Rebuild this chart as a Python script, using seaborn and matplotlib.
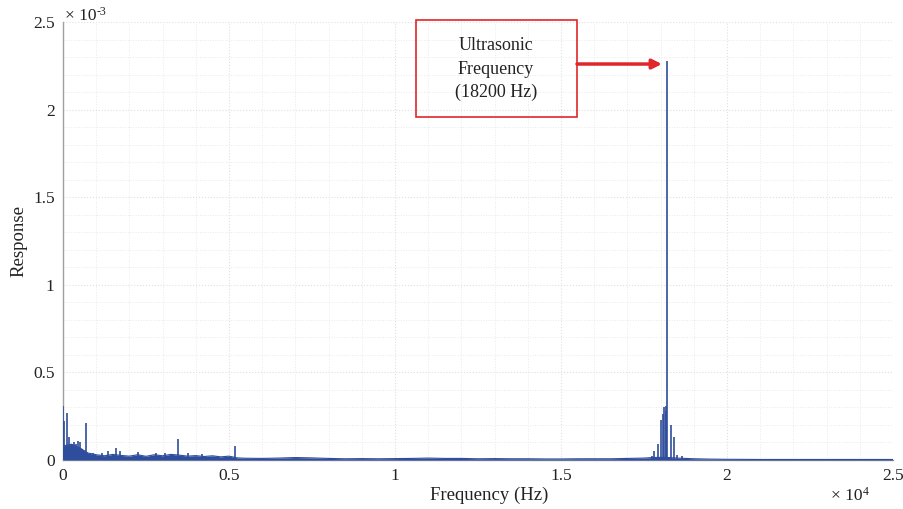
import matplotlib
matplotlib.use("Agg")
import matplotlib.pyplot as plt
from matplotlib.patches import Rectangle
from matplotlib.ticker import MultipleLocator
import seaborn as sns
import pandas as pd

# ---- data (response in units of 1e-3) ----
floor_freq = [0, 250, 500, 750, 1000, 1250, 1500, 1750, 2000, 2250, 2500, 2750,
              3000, 3250, 3500, 3750, 4000, 4250, 4500, 4750, 5000, 5250, 5500,
              6000, 6500, 7000, 7500, 8000, 8500, 9000, 9500, 10000, 10500,
              11000, 11500, 12000, 12500, 13000, 13500, 14000, 14500, 15000,
              15500, 16000, 16500, 17000, 17500, 17750, 18000, 18250, 18500,
              18750, 19000, 19500, 20000, 21000, 22000, 23000, 24000, 25000]
floor_resp = [0.08, 0.09, 0.07, 0.04, 0.03, 0.024, 0.032, 0.026, 0.022, 0.03, 0.021, 0.03,
              0.024, 0.032, 0.028, 0.022, 0.025, 0.02, 0.024, 0.018, 0.022, 0.012, 0.01,
              0.009, 0.011, 0.014, 0.012, 0.009, 0.007, 0.008, 0.007, 0.008, 0.009,
              0.011, 0.009, 0.009, 0.007, 0.008, 0.007, 0.007, 0.006, 0.006,
              0.007, 0.007, 0.007, 0.009, 0.011, 0.014, 0.015, 0.014, 0.011,
              0.009, 0.007, 0.005, 0.004, 0.003, 0.003, 0.003, 0.003, 0.003]

peak_freq = [0, 40, 110, 190, 260, 330, 380, 440, 500, 560, 690, 900, 1165, 1370,
             1600, 1720, 2270, 2800, 3070, 3450, 3780, 4200, 5180,
             17730, 17810, 17910, 18000, 18080, 18110, 18150, 18170, 18200,
             18300, 18400, 18485, 18640]
peak_resp = [0.31, 0.22, 0.27, 0.13, 0.09, 0.10, 0.09, 0.11, 0.10, 0.06, 0.21, 0.04, 0.04, 0.05,
             0.07, 0.05, 0.045, 0.04, 0.04, 0.12, 0.04, 0.035, 0.08,
             0.025, 0.05, 0.09, 0.23, 0.26, 0.30, 0.31, 0.28, 2.28,
             0.20, 0.13, 0.03, 0.025]

x_ticks = [0, 5000, 10000, 15000, 20000, 25000]
x_tick_labels = ["0", "0.5", "1", "1.5", "2", "2.5"]
y_ticks = [0, 0.5, 1.0, 1.5, 2.0, 2.5]
y_tick_labels = ["0", "0.5", "1", "1.5", "2", "2.5"]

annot_lines = ["Ultrasonic", "Frequency", "(18200 Hz)"]

# ---- style ----
sns.set_theme(style="white")
plt.rcParams["font.family"] = ["Liberation Serif", "DejaVu Serif"]

BLUE = "#2e4d9c"
RED = "#e0262a"
GRAY = "#a0a0a0"
TXT = "#222222"

fig = plt.figure(figsize=(9.04, 5.09), dpi=100)
ax = fig.add_axes([63 / 904, 1 - 460 / 509, 830 / 904, 438 / 509])

floor_df = pd.DataFrame({"Frequency": floor_freq, "Response": floor_resp})
ax.fill_between(floor_df["Frequency"], 0, floor_df["Response"], color=BLUE, lw=0, zorder=3)
sns.lineplot(data=floor_df, x="Frequency", y="Response", color=BLUE, lw=0.8, ax=ax, zorder=3)

peak_df = pd.DataFrame({"Frequency": peak_freq, "Response": peak_resp})
ax.vlines(peak_df["Frequency"], 0, peak_df["Response"], color=BLUE, lw=1.2, zorder=4)

ax.set_xlim(0, 25000)
ax.set_ylim(0, 2.5)
ax.set_xticks(x_ticks)
ax.set_xticklabels(x_tick_labels)
ax.set_yticks(y_ticks)
ax.set_yticklabels(y_tick_labels)
ax.xaxis.set_minor_locator(MultipleLocator(1000))
ax.yaxis.set_minor_locator(MultipleLocator(0.1))

ax.grid(True, which="major", color="#e0e0e0", lw=0.8, ls=":")
ax.grid(True, which="minor", color="#eaeaea", lw=0.7, ls=":")
ax.set_axisbelow(True)

for s in ["top", "right"]:
    ax.spines[s].set_visible(False)
for s in ["left", "bottom"]:
    ax.spines[s].set_color(GRAY)
    ax.spines[s].set_linewidth(1.0)

ax.tick_params(axis="both", which="major", direction="in", length=5, width=0.8,
               color="#808080", labelsize=12.5, labelcolor=TXT, pad=6)
ax.tick_params(axis="both", which="minor", length=0)

ax.set_xlabel("Frequency (Hz)", fontsize=13.5, color=TXT)
ax.xaxis.set_label_coords((489 - 63) / 830, -(487 - 460) / 438)
ax.set_ylabel("Response", fontsize=13.5, color=TXT)
ax.yaxis.set_label_coords((27 - 63) / 830, 0.5)

# exponent labels
fig.text(65 / 904, 1 - 16 / 509, "× 10", fontsize=12.5, color=TXT, ha="left", va="center")
fig.text(97 / 904, 1 - 12 / 509, "-3", fontsize=8.5, color=TXT, ha="left", va="center")
fig.text(831 / 904, 1 - 496 / 509, "× 10", fontsize=12.5, color=TXT, ha="left", va="center")
fig.text(863 / 904, 1 - 492 / 509, "4", fontsize=8.5, color=TXT, ha="left", va="center")

# annotation box
fig.add_artist(Rectangle((416 / 904, 1 - 117 / 509), 161 / 904, 97 / 509,
                         transform=fig.transFigure, fill=False, ec=RED, lw=1.2, zorder=10))
for i, line in enumerate(annot_lines):
    fig.text(496 / 904, 1 - (46 + 23 * i) / 509, line, fontsize=13, color=TXT,
             ha="center", va="center")

ax.annotate("", xy=(18040, 2.26), xycoords="data",
            xytext=(577 / 904, 1 - 64 / 509), textcoords="figure fraction",
            arrowprops=dict(arrowstyle="-|>", color=RED, lw=2.5, mutation_scale=14,
                            shrinkA=0, shrinkB=0), annotation_clip=False)

fig.savefig("out.png", dpi=100)
